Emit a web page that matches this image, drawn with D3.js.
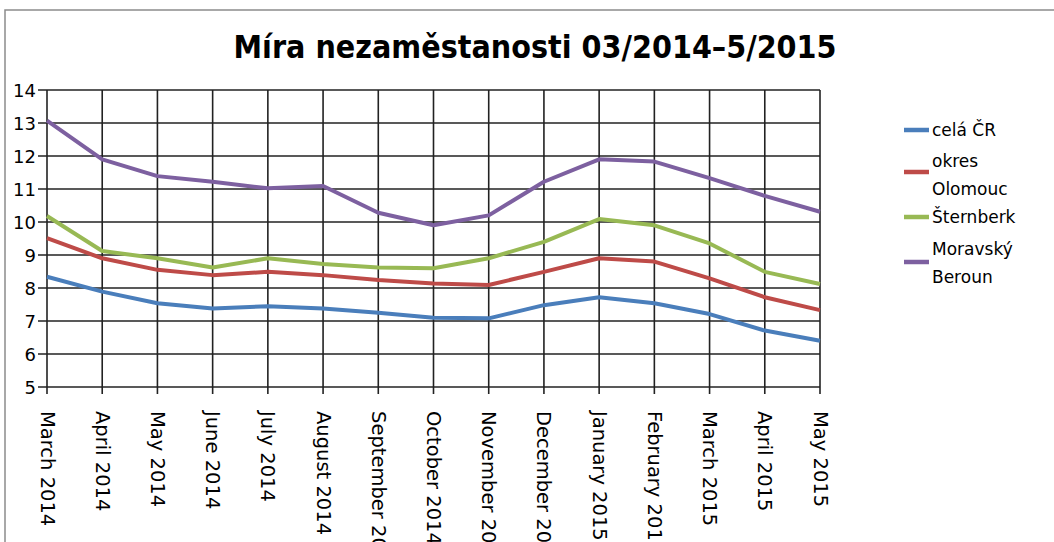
<!doctype html>
<html>
<head>
    <meta charset="UTF-8">
    <title>Míra nezaměstnanosti</title>
    <script src="https://d3js.org/d3.v7.min.js"></script>
    <style>
        body { margin: 0; background: #fff; }
        text { font-family: "DejaVu Sans", sans-serif; fill: #000; }
    </style>
</head>
<body>
<script>
    // data
    var months = ["March 2014", "April 2014", "May 2014", "June 2014", "July 2014",
        "August 2014", "September 2014", "October 2014", "November 2014", "December 2014",
        "January 2015", "February 2015", "March 2015", "April 2015", "May 2015"];
    var celaCR = [8.34, 7.89, 7.54, 7.38, 7.45, 7.38, 7.25, 7.10, 7.08, 7.48, 7.72, 7.54, 7.21, 6.71, 6.40];
    var olomouc = [9.51, 8.90, 8.55, 8.39, 8.49, 8.39, 8.24, 8.14, 8.09, 8.49, 8.90, 8.80, 8.29, 7.72, 7.33];
    var sternberk = [10.18, 9.12, 8.90, 8.62, 8.90, 8.73, 8.62, 8.60, 8.90, 9.40, 10.09, 9.90, 9.35, 8.49, 8.12];
    var beroun = [13.07, 11.90, 11.39, 11.22, 11.02, 11.09, 10.28, 9.90, 10.20, 11.22, 11.90, 11.83, 11.33, 10.79, 10.31];
    var seriesNames = [["celá ČR"], ["okres", "Olomouc"], ["Šternberk"], ["Moravský", "Beroun"]];
    var colors = ["#4a7ebb", "#be4b48", "#98b954", "#7d60a0"];
    var yTicks = [5, 6, 7, 8, 9, 10, 11, 12, 13, 14];

    var W = 1054, H = 542;
    var plotL = 47, plotR = 820, plotT = 90, plotB = 387;

    var svg = d3.select("body").append("svg")
        .attr("width", W).attr("height", H);

    // frame
    svg.append("path")
        .attr("d", "M5," + H + "V10H" + W)
        .attr("fill", "none").attr("stroke", "#8c8c8c").attr("stroke-width", 1.5);

    var x = d3.scalePoint().domain(months).range([plotL, plotR]);
    var y = d3.scaleLinear().domain([5, 14]).range([plotB, plotT]);

    // grid
    svg.append("g").selectAll("line").data(yTicks).enter().append("line")
        .attr("x1", plotL - 9).attr("x2", plotR)
        .attr("y1", function (d) { return y(d); })
        .attr("y2", function (d) { return y(d); })
        .attr("stroke", "#222").attr("stroke-width", 1.6);
    svg.append("g").selectAll("line").data(months).enter().append("line")
        .attr("x1", function (d) { return x(d); })
        .attr("x2", function (d) { return x(d); })
        .attr("y1", plotT).attr("y2", plotB + 7)
        .attr("stroke", "#222").attr("stroke-width", 1.6);

    // y labels
    svg.append("g").selectAll("text").data(yTicks).enter().append("text")
        .attr("x", 36)
        .attr("y", function (d) { return y(d) + 6.5; })
        .attr("text-anchor", "end")
        .attr("font-size", 18)
        .text(function (d) { return d; });

    // x labels (rotated)
    svg.append("g").selectAll("text").data(months).enter().append("text")
        .attr("transform", function (d) { return "translate(" + (x(d) - 6.5) + ",411) rotate(90)"; })
        .attr("font-size", 19.5)
        .text(function (d) { return d; });

    // lines
    var line = d3.line()
        .x(function (d, i) { return x(months[i]); })
        .y(function (d) { return y(d); });
    [celaCR, olomouc, sternberk, beroun].forEach(function (s, k) {
        svg.append("path").datum(s)
            .attr("d", line)
            .attr("fill", "none")
            .attr("stroke", colors[k])
            .attr("stroke-width", 4)
            .attr("stroke-linejoin", "round");
    });

    // title (condensed to the reference width)
    svg.append("text")
        .attr("x", 535).attr("y", 58)
        .attr("text-anchor", "middle")
        .attr("font-weight", "bold")
        .attr("font-size", 32)
        .attr("textLength", 603)
        .attr("lengthAdjust", "spacingAndGlyphs")
        .text("Míra nezaměstanosti 03/2014–5/2015");

    // legend
    var markerY = [130, 172, 217, 262];
    var textY = [[136], [167, 195], [223], [255, 283]];
    seriesNames.forEach(function (names, k) {
        svg.append("line")
            .attr("x1", 904).attr("x2", 929)
            .attr("y1", markerY[k]).attr("y2", markerY[k])
            .attr("stroke", colors[k]).attr("stroke-width", 4.5);
        names.forEach(function (n, j) {
            svg.append("text")
                .attr("x", 932).attr("y", textY[k][j])
                .attr("font-size", 17)
                .text(n);
        });
    });
</script>
</body>
</html>
